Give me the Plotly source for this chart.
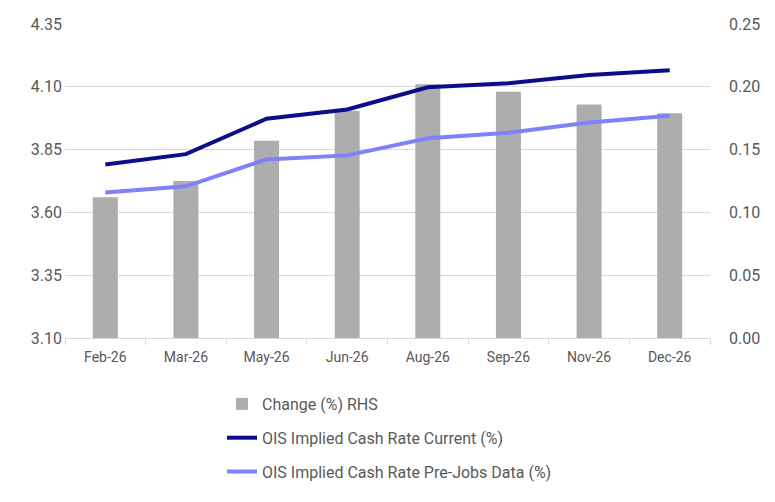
import plotly.graph_objects as go

months = ["Feb-26", "Mar-26", "May-26", "Jun-26", "Aug-26", "Sep-26", "Nov-26", "Dec-26"]
change_rhs = [0.112, 0.125, 0.157, 0.181, 0.202, 0.196, 0.186, 0.179]
ois_current = [3.791, 3.832, 3.973, 4.010, 4.098, 4.114, 4.147, 4.166]
ois_prejobs = [3.679, 3.704, 3.811, 3.827, 3.895, 3.917, 3.958, 3.985]
left_ticks = [3.10, 3.35, 3.60, 3.85, 4.10, 4.35]
right_ticks = [0.00, 0.05, 0.10, 0.15, 0.20, 0.25]

# page body has an 8px margin; compensate so the plot lands where the reference has it
OFF = 8
W, H = 775 - OFF, 502 - OFF
L, R, T, B = 65 - OFF, 65, 24 - OFF, 164
pw, ph = W - L - R, H - T - B

FONT = "Roboto"
TXT = "#595959"
GRID = "#d9d9d9"

fig = go.Figure()
fig.add_trace(go.Bar(x=months, y=change_rhs, name="Change (%) RHS",
                     marker=dict(color="#adadad", line=dict(width=0)),
                     yaxis="y", legendgroup="a"))
fig.add_trace(go.Scatter(x=months, y=ois_current, name="OIS Implied Cash Rate Current (%)",
                         mode="lines", line=dict(color="#0d0d8c", width=4),
                         yaxis="y2", legendgroup="b"))
fig.add_trace(go.Scatter(x=months, y=ois_prejobs, name="OIS Implied Cash Rate Pre-Jobs Data (%)",
                         mode="lines", line=dict(color="#8080f8", width=4),
                         yaxis="y2", legendgroup="c"))

fig.update_layout(
    width=W, height=H,
    margin=dict(l=L, r=R, t=T, b=B, autoexpand=False),
    paper_bgcolor="white", plot_bgcolor="white",
    font=dict(family=FONT, size=14, color=TXT),
    bargap=0.69,
    xaxis=dict(type="category", showline=True, linecolor=GRID, linewidth=1,
               ticks="outside", tickson="boundaries", ticklen=6, tickcolor=GRID,
               ticklabelstandoff=6,
               tickfont=dict(size=14, color=TXT), showgrid=False, zeroline=False),
    yaxis=dict(side="right", range=[0, 0.25], tickvals=right_ticks, tickformat=".2f",
               showgrid=True, gridcolor=GRID, gridwidth=1, zeroline=False,
               ticks="", ticklabelstandoff=18, tickfont=dict(size=16, color=TXT)),
    yaxis2=dict(side="left", overlaying="y", range=[3.10, 4.35], tickvals=left_ticks,
                tickformat=".2f", showgrid=False, zeroline=False,
                ticks="", ticklabelstandoff=2, tickfont=dict(size=16, color=TXT)),
    legend=dict(orientation="v", x=(222 - 65) / pw, xanchor="left",
                y=(24 + ph - 387) / ph, yanchor="top",
                traceorder="grouped", tracegroupgap=10,
                font=dict(size=16, color=TXT), bgcolor="rgba(0,0,0,0)"),
    showlegend=True,
)

fig.write_html("out.html")
